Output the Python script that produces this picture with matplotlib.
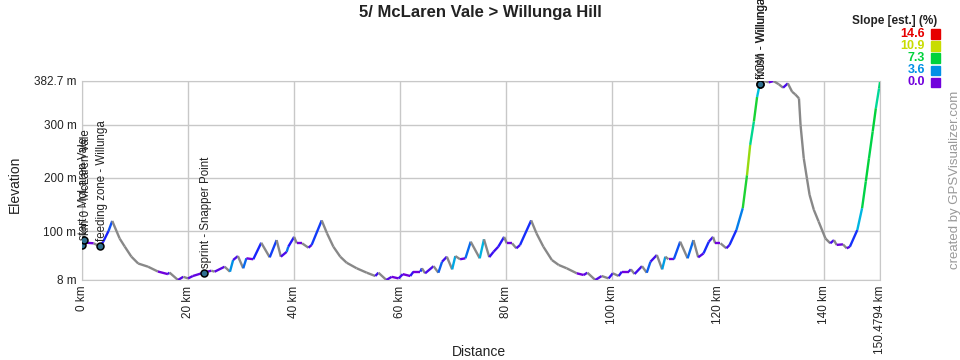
import matplotlib
matplotlib.use("Agg")
import matplotlib.pyplot as plt
import numpy as np
from matplotlib.collections import LineCollection
from matplotlib.colors import LinearSegmentedColormap, Normalize
from matplotlib.patches import Rectangle

plt.rcParams["font.family"] = ["Liberation Sans", "DejaVu Sans"]

# profile (km, m)
distance_km = [
    0.0, 0.3, 0.9, 2.2, 3.4, 4.0, 5.0, 5.7, 7.1, 8.05, 9.3, 10.6, 12.45, 14.3,
    16.2, 16.5, 18.1, 19.1, 20.0, 20.9, 23.0, 24.4, 25.0, 26.9, 27.9, 28.5,
    29.4, 30.4, 31.0, 32.3, 33.8, 35.4, 36.7, 37.5, 38.6, 38.9, 40.0, 40.5,
    41.5, 42.7, 43.3, 45.2, 46.2, 47.4, 48.7, 49.9, 51.8, 53.7, 55.3, 55.9,
    57.4, 58.4, 59.7, 60.5, 61.9, 62.5, 63.8, 64.1, 64.7, 66.3, 67.2, 67.9,
    68.8, 69.8, 70.4, 71.3, 72.3, 73.3, 75.0, 75.8, 76.8, 77.6, 78.5, 79.6,
    80.1, 81.1, 81.9, 82.6, 84.7, 85.7, 87.0, 88.6, 89.9, 91.4, 93.3, 94.6,
    95.3, 96.8, 98.0, 99.3, 100.1, 101.2, 101.8, 103.1, 103.5, 104.2, 105.6,
    106.5, 107.2, 108.4, 109.4, 110.0, 110.6, 111.6, 112.8, 114.2, 115.3,
    116.2, 117.2, 118.2, 119.0, 119.4, 120.4, 121.5, 122.1, 123.4, 124.6,
    125.4, 126.0, 126.7, 127.3, 127.8, 128.5, 129.5, 130.4, 131.4, 132.2,
    133.1, 133.9, 134.5, 135.2, 135.5, 136.1, 136.7, 137.2, 138.0, 138.9,
    140.2, 141.1, 141.8, 142.3, 143.5, 144.2, 144.8, 146.2, 147.1, 147.8,
    148.4, 149.1, 149.7, 150.3, 150.4794,
]
elevation_m = [
    73, 83, 78, 77, 71, 80, 100, 119, 86, 71, 52, 39, 33, 24,
    19, 22, 8, 14, 11, 15.5, 22, 25.5, 23.6, 33, 23.6, 45.6,
    53, 30, 48.8, 47, 78, 50.6, 83, 51.8, 61, 70.6, 89, 77,
    77, 68.7, 73.8, 120, 95.8, 70.6, 51.8, 40.5, 30, 21.7, 15.5, 21.7,
    8, 14, 11, 19, 15.5, 23.6, 23.6, 30, 20.6, 34, 21.7, 42.4,
    51.8, 28, 53, 47, 48.8, 80, 48.8, 84.5, 51, 61, 70.6, 89,
    77, 77, 67.6, 73.8, 120, 95.8, 70.6, 45.6, 36.2, 30, 20.6, 17.4,
    21.7, 8, 15.5, 11, 20.6, 15.5, 23.6, 23.6, 28, 19.3, 34,
    21.7, 42.4, 55, 28, 51.8, 47, 47, 80, 48.8, 83,
    50.6, 58, 80, 89, 77, 77, 67.6, 73.8, 102, 143,
    205, 262, 306, 352, 376, 382.7, 379.6, 382, 376, 369.5,
    377.7, 362, 357, 349.5, 299, 237, 199, 168, 140, 118,
    86, 77, 83, 74, 75, 67.6, 70.6, 102, 143, 193,
    237, 287, 331, 368, 380,
]

# waypoints
wpt_names = ["start - McLaren Vale", "km 0 - McLaren Vale", "feeding zone - Willunga",
             "sprint - Snapper Point", "finish - Willunga", "KOM - Willunga"]
wpt_km = [0.0, 0.3, 3.4, 23.0, 127.8, 127.8]
wpt_elev = [73, 83, 71, 22, 376, 376]

# slope legend
legend_values = ["14.6", "10.9", "7.3", "3.6", "0.0"]
legend_colors = ["#e60000", "#c8dc00", "#00d23c", "#0090e6", "#7000dc"]

x_ticks = [0, 20, 40, 60, 80, 100, 120, 140, 150.4794]
x_labels = ["0 km", "20 km", "40 km", "60 km", "80 km", "100 km", "120 km", "140 km", "150.4794 km"]
y_ticks = [8, 100, 200, 300, 382.7]
y_labels = ["8 m", "100 m", "200 m", "300 m", "382.7 m"]

slope_cmap = LinearSegmentedColormap.from_list("slope", [
    (0.0, "#7000dc"), (0.13, "#1a1aff"), (0.25, "#0090e6"), (0.37, "#00dcdc"),
    (0.5, "#00d23c"), (0.7, "#c8dc00"), (0.85, "#ff9900"), (1.0, "#e60000")])
norm = Normalize(0, 14.6)

fig = plt.figure(figsize=(9.6, 3.6), dpi=100)
ax = fig.add_axes([82 / 960, 80 / 360, 798 / 960, 199.3 / 360])

d = np.array(distance_km)
e = np.array(elevation_m)
pts = np.column_stack([d, e]).reshape(-1, 1, 2)
segs = np.concatenate([pts[:-1], pts[1:]], axis=1)
slope = np.diff(e) / (np.diff(d) * 1000) * 100
colors = ["#888888" if s < -0.3 else slope_cmap(norm(min(max(s, 0), 14.6))) for s in slope]
ax.add_collection(LineCollection(segs, colors=colors, linewidths=1.7, capstyle="butt", zorder=3))

ax.set_xlim(0, 150.4794)
ax.set_ylim(8, 382.7)
ax.set_xticks(x_ticks)
ax.set_xticklabels(x_labels, rotation=90, fontsize=8.5, color="#222222")
ax.set_yticks(y_ticks)
ax.set_yticklabels(y_labels, fontsize=8.5, color="#222222")
ax.tick_params(length=0, pad=4)
ax.grid(True, color="#c8c8c8", linewidth=1)
for sp in ax.spines.values():
    sp.set_color("#c8c8c8")

ax.plot(wpt_km, wpt_elev, "o", ms=5, mfc="#2f6f8f", mec="black", mew=1.1, zorder=5)
for name, xk, ye in zip(wpt_names, wpt_km, wpt_elev):
    ax.annotate(name, (xk, ye), xytext=(2, 5), textcoords="offset pixels",
                rotation=90, ha="center", va="bottom", fontsize=8.3,
                color="#222222", annotation_clip=False)

fig.text(480 / 960, 1 - 12 / 360, "5/ McLaren Vale > Willunga Hill", ha="center",
         va="center", fontsize=12, fontweight="bold", color="#222222")
fig.text(15 / 960, 1 - 184 / 360, "Elevation", rotation=90, ha="center", va="center",
         fontsize=10, color="#222222")
fig.text(479 / 960, 1 - 352 / 360, "Distance", ha="center", va="center",
         fontsize=10, color="#222222")
fig.text(955 / 960, 1 - 180 / 360, "created by GPSVisualizer.com", rotation=90,
         ha="center", va="center", fontsize=9.5, color="#999999")

fig.text(937 / 960, 1 - 21 / 360, "Slope [est.] (%)", ha="right", va="center",
         fontsize=8.5, fontweight="bold", color="#222222")
for i, (v, c) in enumerate(zip(legend_values, legend_colors)):
    yc = 34 + i * 12
    fig.text(925 / 960, 1 - yc / 360, v, ha="right", va="center", fontsize=9,
             fontweight="bold", color=c)
    fig.patches.append(Rectangle((931 / 960, 1 - (yc + 4.5) / 360), 9 / 960, 9 / 360,
                                 transform=fig.transFigure, color=c))

fig.savefig("out.png", dpi=100)
